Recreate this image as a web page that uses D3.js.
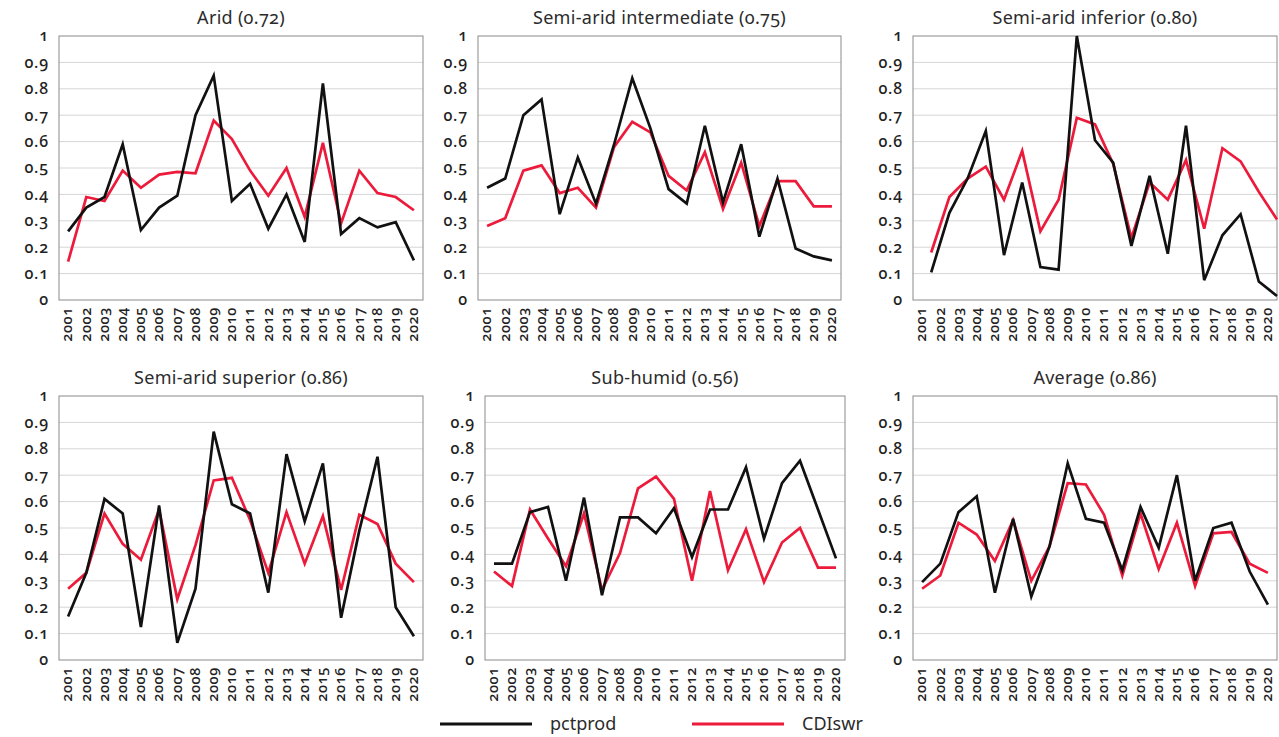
<!DOCTYPE html>
<html>
<head>
<meta charset="utf-8">
<script src="https://cdn.jsdelivr.net/npm/d3@7/dist/d3.min.js"></script>
<style>
  html, body { margin: 0; padding: 0; background: #fff; }
  svg { display: block; font-family: "Noto Sans", "Open Sans", sans-serif; }
  .num { font-variant-numeric: oldstyle-nums; font-feature-settings: "onum" 1; }
  .yaxis .tick text { font-size: 16px; }
  .xaxis .tick text { font-size: 14.5px; }
</style>
</head>
<body>
<svg id="chart" width="1279" height="737"></svg>
<script>
// Years on the x axis
const years = ["2001","2002","2003","2004","2005","2006","2007","2008","2009","2010",
               "2011","2012","2013","2014","2015","2016","2017","2018","2019","2020"];

// y axis ticks
const yTicks = [0, 0.1, 0.2, 0.3, 0.4, 0.5, 0.6, 0.7, 0.8, 0.9, 1];

// Panel titles (correlation in brackets)
const panelTitles = ["Arid (0.72)", "Semi-arid intermediate (0.75)", "Semi-arid inferior (0.80)",
                     "Semi-arid superior (0.86)", "Sub-humid (0.56)", "Average (0.86)"];

// Series names
const seriesNames = ["pctprod", "CDIswr"];

// pctprod per region
const pctprodArid         = [0.26,0.35,0.39,0.59,0.265,0.35,0.395,0.70,0.85,0.375,0.44,0.27,0.40,0.22,0.82,0.25,0.31,0.275,0.295,0.15];
const pctprodSemiInter    = [0.425,0.46,0.70,0.76,0.325,0.54,0.365,0.59,0.84,0.65,0.42,0.365,0.66,0.37,0.59,0.24,0.46,0.195,0.165,0.15];
const pctprodSemiInferior = [0.105,0.33,0.46,0.64,0.17,0.445,0.125,0.115,1.0,0.605,0.52,0.205,0.47,0.175,0.66,0.075,0.245,0.325,0.07,0.015];
const pctprodSemiSuperior = [0.165,0.33,0.61,0.555,0.125,0.585,0.065,0.27,0.865,0.59,0.555,0.255,0.78,0.525,0.745,0.16,0.49,0.77,0.20,0.09];
const pctprodSubHumid     = [0.365,0.365,0.56,0.58,0.30,0.615,0.245,0.54,0.54,0.48,0.575,0.39,0.57,0.57,0.73,0.46,0.67,0.755,0.57,0.385];
const pctprodAverage      = [0.295,0.365,0.56,0.62,0.255,0.535,0.24,0.43,0.745,0.535,0.52,0.34,0.58,0.425,0.70,0.30,0.50,0.52,0.335,0.21];

// CDIswr per region
const cdiArid         = [0.145,0.39,0.375,0.49,0.425,0.475,0.485,0.48,0.68,0.61,0.49,0.395,0.50,0.315,0.595,0.29,0.49,0.405,0.39,0.34];
const cdiSemiInter    = [0.28,0.31,0.49,0.51,0.405,0.425,0.35,0.58,0.675,0.635,0.47,0.415,0.56,0.345,0.52,0.28,0.45,0.45,0.355,0.355];
const cdiSemiInferior = [0.18,0.39,0.46,0.505,0.38,0.565,0.26,0.38,0.69,0.665,0.515,0.235,0.445,0.38,0.53,0.27,0.575,0.525,0.41,0.305];
const cdiSemiSuperior = [0.27,0.33,0.555,0.44,0.38,0.57,0.23,0.435,0.68,0.69,0.53,0.33,0.56,0.365,0.545,0.265,0.55,0.515,0.365,0.295];
const cdiSubHumid     = [0.335,0.28,0.57,0.46,0.355,0.555,0.265,0.405,0.65,0.695,0.61,0.30,0.64,0.34,0.495,0.295,0.445,0.50,0.35,0.35];
const cdiAverage      = [0.27,0.32,0.52,0.475,0.375,0.53,0.30,0.43,0.67,0.665,0.55,0.32,0.555,0.345,0.52,0.28,0.48,0.485,0.365,0.33];

const pctprodSeries = [pctprodArid, pctprodSemiInter, pctprodSemiInferior, pctprodSemiSuperior, pctprodSubHumid, pctprodAverage];
const cdiSeries     = [cdiArid, cdiSemiInter, cdiSemiInferior, cdiSemiSuperior, cdiSubHumid, cdiAverage];

// ---- layout ----
const colors = { pctprod: "#111111", cdi: "#ec1b3b" };
const frames = [
  { left: 59,  right: 423,  top: 36,  bottom: 300, shift: 0 },
  { left: 478, right: 841,  top: 36,  bottom: 300, shift: 0 },
  { left: 913, right: 1277, top: 36,  bottom: 300, shift: 0.5 },
  { left: 59,  right: 423,  top: 396, bottom: 660, shift: 0 },
  { left: 485, right: 845,  top: 396, bottom: 660, shift: 0 },
  { left: 913, right: 1277, top: 396, bottom: 660, shift: 0 }
];

const svg = d3.select("#chart");

frames.forEach((f, i) => {
  const g = svg.append("g");
  const x = d3.scaleBand().domain(years).range([f.left, f.right]);
  // line positions (some panels place points on the band edges)
  const xLine = d3.scalePoint().domain(years)
      .range([f.left + x.bandwidth() * (0.5 + f.shift), f.right - x.bandwidth() * (0.5 - f.shift)]);
  const y = d3.scaleLinear().domain([0, 1]).range([f.bottom, f.top]);

  // gridlines
  g.selectAll("line.grid").data(yTicks.filter(t => t > 0 && t < 1)).join("line")
    .attr("class", "grid")
    .attr("x1", f.left).attr("x2", f.right)
    .attr("y1", d => y(d)).attr("y2", d => y(d))
    .attr("stroke", "#d6d6d6").attr("stroke-width", 1);

  // frame
  g.append("rect")
    .attr("x", f.left).attr("y", f.top)
    .attr("width", f.right - f.left).attr("height", f.bottom - f.top)
    .attr("fill", "none").attr("stroke", "#8a8a8a").attr("stroke-width", 1);

  // y axis labels
  const yAxis = d3.axisLeft(y).tickValues(yTicks).tickSize(0).tickPadding(10)
      .tickFormat(d => d === 0 ? "0" : d === 1 ? "1" : d3.format(".1f")(d));
  g.append("g").attr("class", "yaxis").attr("transform", `translate(${f.left},0)`).call(yAxis)
    .attr("font-family", "'Noto Sans', sans-serif")
    .call(a => a.select(".domain").remove())
    .call(a => a.selectAll("text").classed("num", true).attr("fill", "#222")
      .attr("dy", "0.3em")
      .style("font-weight", 500).style("letter-spacing", "0.8px"));

  // x axis labels, rotated
  const xAxis = d3.axisBottom(x).tickSize(0).tickPadding(0);
  g.append("g").attr("class", "xaxis").attr("transform", `translate(0,${f.bottom})`).call(xAxis)
    .attr("font-family", "'Noto Sans', sans-serif")
    .call(a => a.select(".domain").remove())
    .call(a => a.selectAll("text").classed("num", true)
      .attr("fill", "#222").style("font-weight", 500).style("letter-spacing", "0.6px")
      .attr("text-anchor", "end")
      .attr("dy", "0.3em")
      .attr("transform", "translate(0,7) rotate(-90)")
      .attr("x", 0).attr("y", 0));

  // lines
  const line = d3.line().x((d, k) => xLine(years[k])).y(d => y(d));
  g.append("path").datum(cdiSeries[i]).attr("d", line)
    .attr("fill", "none").attr("stroke", colors.cdi).attr("stroke-width", 2.7)
    .attr("stroke-linejoin", "miter");
  g.append("path").datum(pctprodSeries[i]).attr("d", line)
    .attr("fill", "none").attr("stroke", colors.pctprod).attr("stroke-width", 2.7)
    .attr("stroke-linejoin", "miter");

  // title
  g.append("text").attr("class", "num")
    .attr("x", (f.left + f.right) / 2).attr("y", f.top - 12)
    .attr("text-anchor", "middle")
    .attr("fill", "#2b2b2b").style("font-size", "18px").style("font-weight", 400)
    .style("letter-spacing", "0.3px")
    .text(panelTitles[i]);
});

// legend
const legend = svg.append("g");
const legendItems = [
  { name: seriesNames[0], color: colors.pctprod, x: 440 },
  { name: seriesNames[1], color: colors.cdi, x: 692 }
];
legendItems.forEach(it => {
  legend.append("line")
    .attr("x1", it.x).attr("x2", it.x + 92).attr("y1", 724).attr("y2", 724)
    .attr("stroke", it.color).attr("stroke-width", 2.8);
  legend.append("text")
    .attr("x", it.x + 110).attr("y", 730)
    .attr("fill", "#2b2b2b").style("font-size", "18px")
    .text(it.name);
});
</script>
</body>
</html>
